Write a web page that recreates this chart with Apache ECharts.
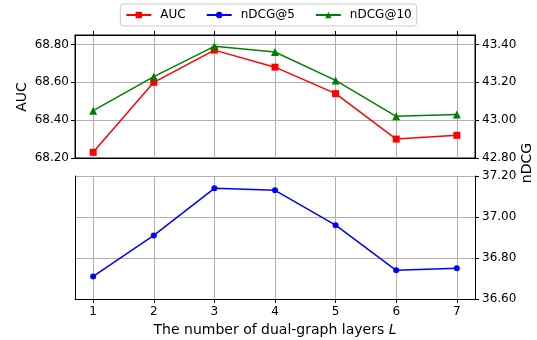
<!DOCTYPE html>
<html>
<head>
<meta charset="utf-8">
<script src="https://cdn.jsdelivr.net/npm/echarts@6/dist/echarts.min.js"></script>
<style>
  html, body { margin: 0; padding: 0; background: #ffffff; }
  #chart { width: 537px; height: 340px; }
</style>
</head>
<body>
<div id="chart"></div>
<script>
// ---- data ----
var layers = [1, 2, 3, 4, 5, 6, 7];
var aucValues = [68.23, 68.60, 68.77, 68.68, 68.54, 68.30, 68.32];
var ndcg5Values = [36.71, 36.91, 37.14, 37.13, 36.96, 36.74, 36.75];
var ndcg10Values = [43.05, 43.23, 43.39, 43.36, 43.21, 43.02, 43.03];
var aucTicks = [68.2, 68.4, 68.6, 68.8];
var ndcg10Ticks = [42.8, 43.0, 43.2, 43.4];
var ndcg5Ticks = [36.6, 36.8, 37.0, 37.2];

function pairs(xs, ys) { return xs.map(function (x, i) { return [x, ys[i]]; }); }

var FONT = 'DejaVu Sans';
var gridLine = { show: true, lineStyle: { color: '#b0b0b0', width: 1 } };
var blackLine = { show: true, onZero: false, lineStyle: { color: '#000', width: 1 } };
var fmt = function (v) { return Number(v).toFixed(2); };

var chart = echarts.init(document.getElementById('chart'), null, { renderer: 'canvas' });
chart.setOption({
  animation: false,
  backgroundColor: '#ffffff',
  textStyle: { fontFamily: FONT },
  legend: {
    top: 4,
    left: 'center',
    data: ['AUC', 'nDCG@5', 'nDCG@10'],
    itemWidth: 25,
    itemHeight: 8,
    itemGap: 20,
    padding: [5, 5, 5, 5],
    borderColor: '#cccccc',
    borderWidth: 1,
    borderRadius: 3,
    textStyle: { fontFamily: FONT, fontSize: 12, color: '#000', padding: [0, 0, 0, 4] }
  },
  grid: [
    { left: 75, right: 62, top: 35, height: 123, show: true, borderColor: '#000', borderWidth: 1, backgroundColor: 'transparent' },
    { left: 75, right: 62, top: 176, height: 123 }
  ],
  xAxis: [
    {
      type: 'value', gridIndex: 0, position: 'top', min: 0.7, max: 7.3,
      axisLine: blackLine,
      axisTick: { show: true, inside: false, length: 4, customValues: layers, lineStyle: { color: '#000' } },
      axisLabel: { show: false, customValues: layers },
      splitLine: gridLine
    },
    {
      type: 'value', gridIndex: 1, position: 'bottom', min: 0.7, max: 7.3,
      axisLine: blackLine,
      axisTick: { show: true, length: 4, customValues: layers, lineStyle: { color: '#000' } },
      axisLabel: { show: true, customValues: layers, margin: 7, fontFamily: FONT, fontSize: 12, color: '#000' },
      splitLine: gridLine,
      name: '{a|The number of dual-graph layers }{b|L}',
      nameLocation: 'middle',
      nameGap: 24,
      nameTextStyle: {
        rich: {
          a: { fontFamily: FONT, fontSize: 14, color: '#000' },
          b: { fontFamily: FONT, fontSize: 14, fontStyle: 'italic', color: '#000' }
        }
      }
    },
    {
      type: 'value', gridIndex: 0, position: 'bottom', min: 0.7, max: 7.3,
      axisLine: blackLine,
      axisTick: { show: false },
      axisLabel: { show: false },
      splitLine: { show: false }
    }
  ],
  yAxis: [
    {
      type: 'value', gridIndex: 0, position: 'left', min: 68.2, max: 68.85,
      axisLine: blackLine,
      axisTick: { show: true, length: 4, customValues: aucTicks, lineStyle: { color: '#000' } },
      axisLabel: { show: true, customValues: aucTicks, formatter: fmt, margin: 6, fontFamily: FONT, fontSize: 12, color: '#000' },
      splitLine: gridLine
    },
    {
      type: 'value', gridIndex: 0, position: 'right', min: 42.8, max: 43.45,
      axisLine: blackLine,
      axisTick: { show: true, length: 4, customValues: ndcg10Ticks, lineStyle: { color: '#000' } },
      axisLabel: { show: true, customValues: ndcg10Ticks, formatter: fmt, margin: 7, fontFamily: FONT, fontSize: 12, color: '#000' },
      splitLine: { show: false }
    },
    {
      type: 'value', gridIndex: 1, position: 'left', min: 36.6, max: 37.2,
      axisLine: blackLine,
      axisTick: { show: false },
      axisLabel: { show: false },
      splitLine: { show: false }
    },
    {
      type: 'value', gridIndex: 1, position: 'right', min: 36.6, max: 37.2,
      axisLine: blackLine,
      axisTick: { show: true, length: 4, customValues: ndcg5Ticks, lineStyle: { color: '#000' } },
      axisLabel: { show: true, customValues: ndcg5Ticks, formatter: fmt, margin: 7, fontFamily: FONT, fontSize: 12, color: '#000' },
      splitLine: { show: true, lineStyle: { color: '#b0b0b0', width: 1 } }
    }
  ],
  graphic: [
    { type: 'text', x: 22, y: 97, rotation: Math.PI / 2,
      style: { text: 'AUC', font: '14px "DejaVu Sans"', fill: '#000', align: 'center', verticalAlign: 'middle' } },
    { type: 'text', x: 527, y: 163, rotation: Math.PI / 2,
      style: { text: 'nDCG', font: '14px "DejaVu Sans"', fill: '#000', align: 'center', verticalAlign: 'middle' } }
  ],
  series: [
    {
      name: 'AUC', type: 'line', xAxisIndex: 0, yAxisIndex: 0,
      data: pairs(layers, aucValues),
      symbol: 'rect', symbolSize: 7, showAllSymbol: true,
      itemStyle: { color: '#ff0000' }, lineStyle: { color: '#ff0000', width: 1.5 }, z: 3
    },
    {
      name: 'nDCG@5', type: 'line', xAxisIndex: 1, yAxisIndex: 3,
      data: pairs(layers, ndcg5Values),
      symbol: 'circle', symbolSize: 6, showAllSymbol: true,
      itemStyle: { color: '#0000ff' }, lineStyle: { color: '#0000ff', width: 1.5 }, z: 3
    },
    {
      name: 'nDCG@10', type: 'line', xAxisIndex: 0, yAxisIndex: 1,
      data: pairs(layers, ndcg10Values),
      symbol: 'triangle', symbolSize: 8, showAllSymbol: true,
      itemStyle: { color: '#008000' }, lineStyle: { color: '#008000', width: 1.5 }, z: 4
    }
  ]
});
</script>
</body>
</html>
